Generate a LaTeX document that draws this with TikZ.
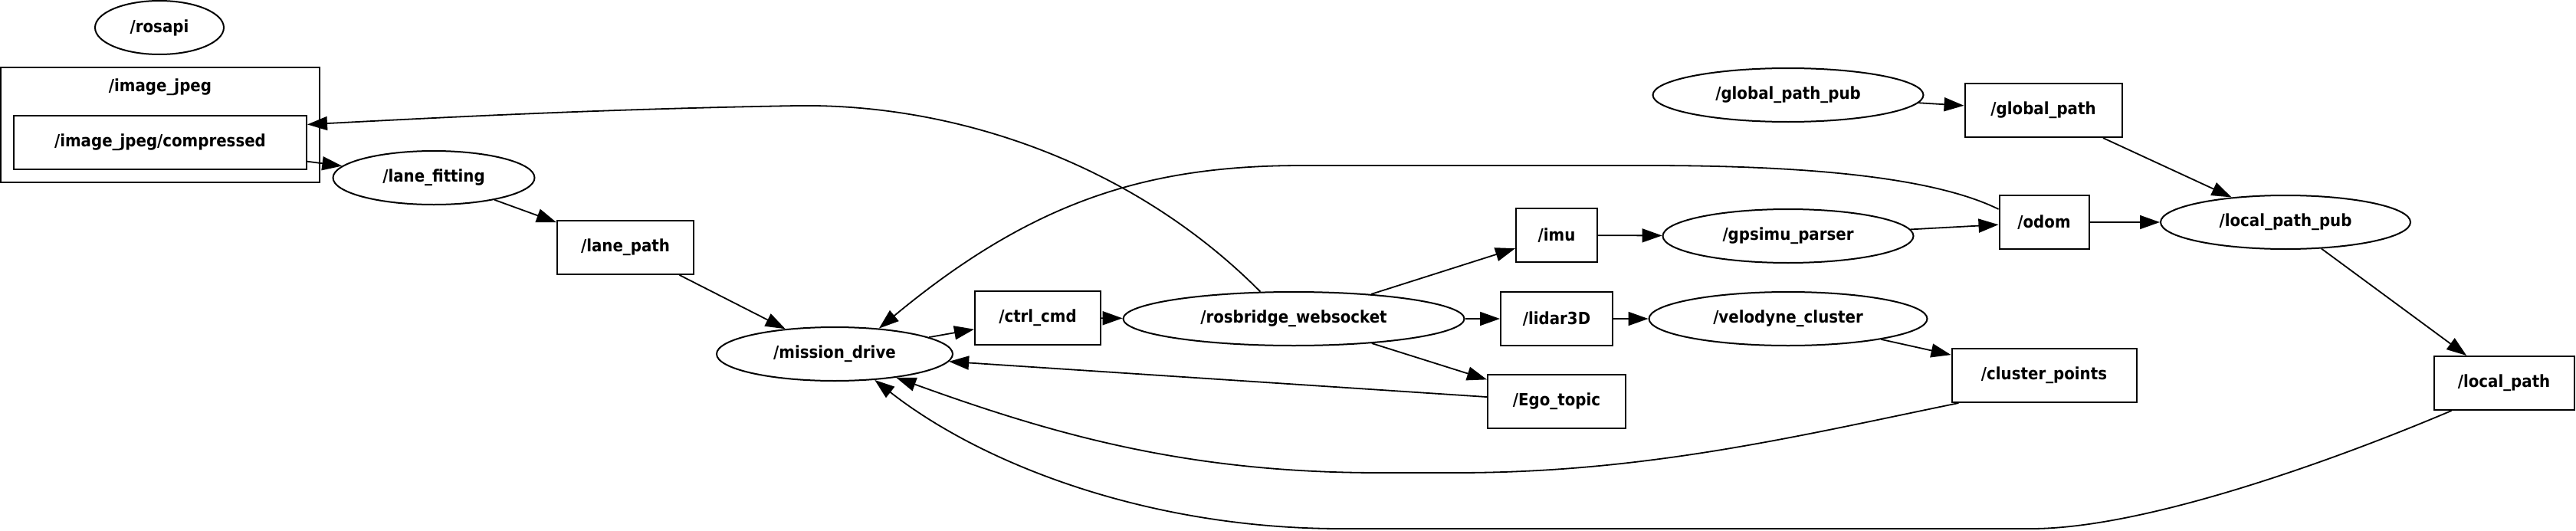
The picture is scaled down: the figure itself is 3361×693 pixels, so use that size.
\documentclass[tikz,border=0pt]{standalone}
\usepackage{fontspec}
\setmainfont{DejaVu Sans}[FakeStretch=0.9]
\usetikzlibrary{arrows.meta,shapes.geometric}

\begin{document}
\begin{tikzpicture}
  [x=1pt,y=-1pt,
   every node/.style={font=\fontsize{22}{26}\selectfont\bfseries,inner sep=0pt},
   rosnode/.style={draw,ellipse,line width=2pt,minimum height=70pt},
   topic/.style={draw,rectangle,line width=2pt,minimum height=70pt},
   edge/.style={line width=1.8pt,-{Triangle[length=26pt,width=18pt]}}]
  \useasboundingbox (0,0) rectangle (3361,693);

  \node[rosnode,minimum width=168pt] (rosapi) at (208,36) {/rosapi};
  \node[draw,line width=2pt,minimum width=416pt,minimum height=150pt] (imgcluster) at (209,163) {};
  \node (imgclusterlabel) at (209,114) {/image\_jpeg};
  \node[topic,minimum width=382pt] (imgcomp) at (209,186) {/image\_jpeg/compressed};
  \node[rosnode,minimum width=263pt] (lanefit) at (566,232) {/lane\_fitting};
  \node[topic,minimum width=178pt] (lanepath) at (816,323) {/lane\_path};
  \node[rosnode,minimum width=308pt] (mission) at (1089,462) {/mission\_drive};
  \node[topic,minimum width=164pt] (ctrlcmd) at (1354,415) {/ctrl\_cmd};
  \node[rosnode,minimum width=445pt] (rosbridge) at (1688,416) {/rosbridge\_websocket};
  \node[topic,minimum width=106pt] (imu) at (2031,307) {/imu};
  \node[topic,minimum width=146pt] (lidar) at (2031,416) {/lidar3D};
  \node[topic,minimum width=180pt] (ego) at (2031,524) {/Ego\_topic};
  \node[rosnode,minimum width=327pt] (gpsimu) at (2333,308) {/gpsimu\_parser};
  \node[rosnode,minimum width=363pt] (velodyne) at (2333,416) {/velodyne\_cluster};
  \node[topic,minimum width=241pt] (cluster) at (2667,490) {/cluster\_points};
  \node[rosnode,minimum width=353pt] (globalpub) at (2333,124) {/global\_path\_pub};
  \node[topic,minimum width=205pt] (globalpath) at (2666,144) {/global\_path};
  \node[topic,minimum width=117pt] (odom) at (2667,290) {/odom};
  \node[rosnode,minimum width=326pt] (localpub) at (2982,290) {/local\_path\_pub};
  \node[topic,minimum width=183pt] (localpath) at (3267,500) {/local\_path};

\foreach \from/\to in
{imgcomp/lanefit, lanefit/lanepath, lanepath/mission, mission/ctrlcmd,
 ctrlcmd/rosbridge, rosbridge/imu, rosbridge/lidar, rosbridge/ego,
 imu/gpsimu, gpsimu/odom, lidar/velodyne, velodyne/cluster,
 globalpub/globalpath, globalpath/localpub, odom/localpub,
 localpub/localpath, ego/mission}
    \draw[edge] (\from) -- (\to);

  % long bends
  \draw[edge] (rosbridge.141) .. controls (1480,215) and (1250,135) .. (1040,138)
    .. controls (800,142) and (600,152) .. (imgcomp.7);
  \draw[edge] (odom.164) .. controls (2520,230) and (2350,216) .. (2150,216)
    -- (1700,216) .. controls (1500,216) and (1350,260) .. (mission.30);
  \draw[edge] ([xshift=10pt]cluster.south west) .. controls (2350,568) and (2150,617) .. (1900,617)
    -- (1800,617) .. controls (1550,617) and (1377,568) .. (mission.-21);
  \draw[edge] ([xshift=24pt]localpath.south west) .. controls (3050,599) and (2800,690) .. (2650,690)
    -- (1750,690) .. controls (1500,690) and (1283,607) .. (mission.-33);

\end{tikzpicture}
\end{document}
